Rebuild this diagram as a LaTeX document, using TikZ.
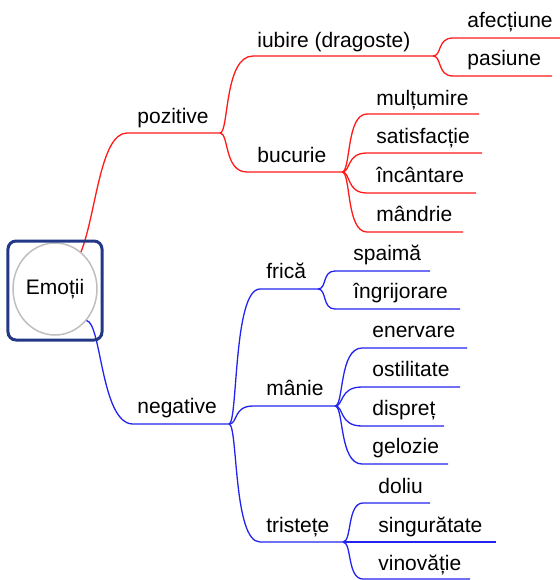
\documentclass[tikz,border=0pt]{standalone}
\usepackage{fontspec}
\setmainfont{Liberation Sans}
\usetikzlibrary{calc,shapes.geometric}
\definecolor{posred}{RGB}{255,25,25}
\definecolor{negblue}{RGB}{35,35,240}
\definecolor{framebl}{RGB}{35,55,135}

\begin{document}
\begin{tikzpicture}[x=0.5pt,y=-0.5pt,
  lbl/.style={anchor=base west,inner sep=0pt,font=\fontsize{10.5}{12}\selectfont},
  redline/.style={posred,line width=0.65pt},
  blueline/.style={negblue,line width=0.65pt},
  twig/.style={to path={.. controls ($(\tikztostart)+(9,0)$) and ($(\tikztostart |- \tikztotarget)+(4,0)$) .. (\tikztotarget)}}]
  \useasboundingbox (0,0) rectangle (560,580);
  \node[draw=gray!50,line width=0.75pt,ellipse,inner sep=0pt,minimum width=42pt,minimum height=46pt,
    font=\fontsize{10.5}{12}\selectfont] (root) at (55,289) {Emoții};

  % pozitive
  \coordinate (pozS) at (127,133);  \coordinate (pozF) at (220,133);
  \coordinate (iubS) at (253,56);   \coordinate (iubF) at (433,56);
  \coordinate (afeS) at (453,38);   \coordinate (afeE) at (560,38);
  \coordinate (pasS) at (453,76);   \coordinate (pasE) at (552,76);
  \coordinate (bucS) at (247,172);  \coordinate (bucF) at (342,172);
  \coordinate (mulS) at (367,114);  \coordinate (mulE) at (479,114);
  \coordinate (satS) at (367,153);  \coordinate (satE) at (482,153);
  \coordinate (incS) at (367,193);  \coordinate (incE) at (476,193);
  \coordinate (mdrS) at (367,232);  \coordinate (mdrE) at (463,232);
  \node[lbl] (poz) at (137,123) {pozitive};
  \node[lbl] (iub) at (257,47) {iubire (dragoste)};
  \node[lbl] (afe) at (467,27) {afecțiune};
  \node[lbl] (pas) at (467,65) {pasiune};
  \node[lbl] (buc) at (257,162) {bucurie};
  \node[lbl] (mul) at (376,105) {mulțumire};
  \node[lbl] (sat) at (376,143) {satisfacție};
  \node[lbl] (inc) at (376,182) {încântare};
  \node[lbl] (mdr) at (376,221) {mândrie};
  \draw[redline] (root.55) .. controls +(15,-37) and +(-27,0) .. (pozS) -- (pozF);
  \draw[redline] (pozF) to[twig] (iubS) -- (iubF);
  \draw[redline] (pozF) to[twig] (bucS) -- (bucF);
  \draw[redline] (iubF) to[twig] (afeS) -- (afeE);
  \draw[redline] (iubF) to[twig] (pasS) -- (pasE);
  \draw[redline] (bucF) to[twig] (mulS) -- (mulE);
  \draw[redline] (bucF) to[twig] (satS) -- (satE);
  \draw[redline] (bucF) to[twig] (incS) -- (incE);
  \draw[redline] (bucF) to[twig] (mdrS) -- (mdrE);

  % negative
  \coordinate (negS) at (133,424);  \coordinate (negF) at (229,424);
  \coordinate (friS) at (260,289);  \coordinate (friF) at (318,289);
  \coordinate (spaS) at (335,271);  \coordinate (spaE) at (430,271);
  \coordinate (ingS) at (335,309);  \coordinate (ingE) at (460,309);
  \coordinate (manS) at (253,406);  \coordinate (manF) at (335,406);
  \coordinate (eneS) at (362,348);  \coordinate (eneE) at (467,348);
  \coordinate (ostS) at (362,387);  \coordinate (ostE) at (460,387);
  \coordinate (disS) at (362,426);  \coordinate (disE) at (444,426);
  \coordinate (gelS) at (362,464);  \coordinate (gelE) at (448,464);
  \coordinate (triS) at (260,542);  \coordinate (triF) at (343,542);
  \coordinate (dolS) at (363,503);  \coordinate (dolE) at (430,503);
  \coordinate (sinS) at (363,542);  \coordinate (sinE) at (496,542);
  \coordinate (vinS) at (363,579);  \coordinate (vinE) at (470,579);
  \node[lbl] (neg) at (137,413) {negative};
  \node[lbl] (fri) at (266,278) {frică};
  \node[lbl] (spa) at (353,260) {spaimă};
  \node[lbl] (ing) at (353,298) {îngrijorare};
  \node[lbl] (man) at (266,395) {mânie};
  \node[lbl] (ene) at (372,337) {enervare};
  \node[lbl] (ost) at (372,376) {ostilitate};
  \node[lbl] (dis) at (372,415) {dispreț};
  \node[lbl] (gel) at (372,453) {gelozie};
  \node[lbl] (tri) at (266,532) {tristețe};
  \node[lbl] (dol) at (378,493) {doliu};
  \node[lbl] (sin) at (378,532) {singurătate};
  \node[lbl] (vin) at (378,570) {vinovăție};
  \draw[blueline] (root.-45) .. controls +(15,2) and +(-32,0) .. (negS) -- (negF);
  \draw[blueline] (negF) to[twig] (friS) -- (friF);
  \draw[blueline] (negF) to[twig] (manS) -- (manF);
  \draw[blueline] (negF) to[twig] (triS) -- (triF);
  \draw[blueline] (friF) to[twig] (spaS) -- (spaE);
  \draw[blueline] (friF) to[twig] (ingS) -- (ingE);
  \draw[blueline] (manF) to[twig] (eneS) -- (eneE);
  \draw[blueline] (manF) to[twig] (ostS) -- (ostE);
  \draw[blueline] (manF) to[twig] (disS) -- (disE);
  \draw[blueline] (manF) to[twig] (gelS) -- (gelE);
  \draw[blueline] (triF) to[twig] (dolS) -- (dolE);
  \draw[blueline] (triF) to[twig] (sinS) -- (sinE);
  \draw[blueline] (triF) to[twig] (vinS) -- (vinE);

  \node[draw=framebl,line width=1.5pt,rounded corners=4pt,minimum width=47pt,minimum height=49.5pt] (rootbox) at (55,290.5) {};
\end{tikzpicture}
\end{document}
